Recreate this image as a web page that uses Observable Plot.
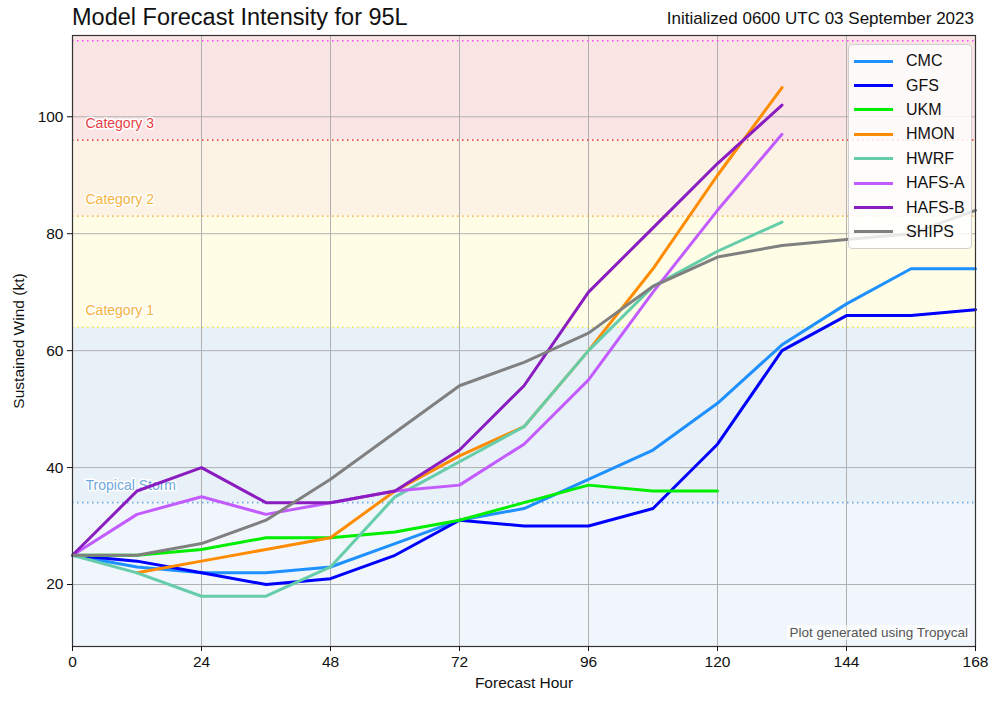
<!DOCTYPE html>
<html>
<head>
<meta charset="utf-8">
<script src="https://cdn.jsdelivr.net/npm/d3@7"></script>
<script src="https://cdn.jsdelivr.net/npm/@observablehq/plot@0.6"></script>
<style>
  body { margin: 0; background: #fff; font-family: "Liberation Sans", Arial, sans-serif; }
  #wrap { position: relative; width: 1000px; height: 704px; }
  #head { position: relative; height: 30px; }
  #title { position: absolute; left: 72px; top: 3px; font-size: 23.5px; line-height: 28px; color: #111; white-space: nowrap; }
  #init { position: absolute; right: 26px; top: 9px; font-size: 17px; line-height: 20px; color: #111; white-space: nowrap; }
  #legend { position: absolute; left: 848px; top: 44px; width: 124px; padding: 4px 0; background: rgba(255,255,255,0.82);
            border: 1px solid #d0d0d0; border-radius: 4px; box-sizing: border-box; }
  .li { display: flex; align-items: center; height: 24.4px; }
  .sw { width: 39px; height: 3px; margin-left: 5px; margin-right: 13px; }
  .lt { font-size: 16px; color: #111; }
  #credit { position: absolute; right: 30px; top: 625px; font-size: 13.5px; color: #555; background: rgba(255,255,255,0.6); padding: 0 2px; white-space: nowrap; }
  svg { display: block; }
</style>
</head>
<body>
<div id="wrap">
  <div id="head">
    <div id="title">Model Forecast Intensity for 95L</div>
    <div id="init">Initialized 0600 UTC 03 September 2023</div>
  </div>
  <div id="chart"></div>
  <div id="legend"></div>
  <div id="credit">Plot generated using Tropycal</div>
</div>
<script>
// ---- data ----
const hours = [0, 12, 24, 36, 48, 60, 72, 84, 96, 108, 120, 132, 144, 156, 168];
const models = ["CMC", "GFS", "UKM", "HMON", "HWRF", "HAFS-A", "HAFS-B", "SHIPS"];
const colors = ["#1e90ff", "#0000ff", "#00ee00", "#ff8c00", "#66cdaa", "#c35cff", "#8a1cc0", "#808080"];
const cmc   = [25, 23, 22, 22, 23, 27, 31, 33, 38, 43, 51, 61, 68, 74, 74];
const gfs   = [25, 24, 22, 20, 21, 25, 31, 30, 30, 33, 44, 60, 66, 66, 67];
const ukm   = [25, 25, 26, 28, 28, 29, 31, 34, 37, 36, 36, null, null, null, null];
const hmon  = [null, 22, 24, 26, 28, 36, 42, 47, 60, 74, 90, 105, null, null, null];
const hwrf  = [25, 22, 18, 18, 23, 35, 41, 47, 60, 71, 77, 82, null, null, null];
const hafsA = [25, 32, 35, 32, 34, 36, 37, 44, 55, 70, 84, 97, null, null, null];
const hafsB = [25, 36, 40, 34, 34, 36, 43, 54, 70, 81, 92, 102, null, null, null];
const ships = [25, 25, 27, 31, 38, 46, 54, 58, 63, 71, 76, 78, 79, 80, 84];
const seriesValues = [cmc, gfs, ukm, hmon, hwrf, hafsA, hafsB, ships];

const categoryNames = ["Tropical Storm", "Category 1", "Category 2", "Category 3", ""];
const categoryThresholds = [34, 64, 83, 96, 113];
const categoryLineColors = ["#6fa8dc", "#eeee44", "#f7b955", "#e84a4a", "#ff44ff"];
const categoryTextColors = ["#6fa8dc", "#f5b342", "#f5b342", "#e63e46", "#ff44ff"];
const bandLows  = [9.4, 34, 64, 83, 96];
const bandHighs = [34, 64, 83, 96, 113.9];
const bandFills = ["#f0f6fb", "#e8f0f8", "#fffde6", "#fdf3e5", "#fbe4e4"];

const xTicks = [0, 24, 48, 72, 96, 120, 144, 168];
const yTicks = [20, 40, 60, 80, 100];

// ---- build tables ----
const rows = [];
models.forEach((m, i) => {
  hours.forEach((h, j) => {
    const v = seriesValues[i][j];
    if (v != null) rows.push({model: m, hour: h, wind: v});
  });
});
const bands = bandLows.map((lo, i) => ({lo, hi: bandHighs[i], fill: bandFills[i]}));
const cats = categoryThresholds.map((t, i) => ({t, name: categoryNames[i], line: categoryLineColors[i], text: categoryTextColors[i]}));

const chart = Plot.plot({
  width: 1000,
  height: 674,
  marginTop: 5,
  marginBottom: 58,
  marginLeft: 72,
  marginRight: 25,
  style: {fontFamily: "Liberation Sans, Arial, sans-serif", fontSize: "15.5px", color: "#111", background: "transparent"},
  x: {domain: [0, 168]},
  y: {domain: [9.4, 113.9]},
  color: {domain: models, range: colors},
  marks: [
    Plot.rect(bands, {x1: 0, x2: 168, y1: "lo", y2: "hi", fill: "fill"}),
    Plot.gridX(xTicks, {stroke: "#b0b0b0", strokeOpacity: 1, strokeWidth: 1}),
    Plot.gridY(yTicks, {stroke: "#b0b0b0", strokeOpacity: 1, strokeWidth: 1}),
    Plot.ruleY(cats, {y: "t", stroke: "line", strokeDasharray: "1.5,3.5", strokeWidth: 1.6}),
    Plot.text(cats.filter(d => d.name), {x: 0, y: "t", text: "name", fill: "text", stroke: "white", strokeWidth: 3,
      textAnchor: "start", dx: 13, dy: -17, fontSize: 14}),
    Plot.line(rows, {x: "hour", y: "wind", z: "model", stroke: "model", strokeWidth: 3, strokeLinejoin: "miter"}),
    Plot.frame({stroke: "#333", strokeWidth: 1.2}),
    Plot.axisX({ticks: xTicks, tickSize: 5, fontSize: 15.5, label: "Forecast Hour", labelAnchor: "center", labelArrow: "none", labelOffset: 41, tickPadding: 4}),
    Plot.axisY({ticks: yTicks, tickSize: 5, fontSize: 15.5, label: "Sustained Wind (kt)", labelAnchor: "center", labelArrow: "none", labelOffset: 60, tickPadding: 4})
  ]
});
document.getElementById("chart").appendChild(chart);

// legend
const leg = document.getElementById("legend");
models.forEach((m, i) => {
  const row = document.createElement("div");
  row.className = "li";
  row.innerHTML = `<div class="sw" style="background:${colors[i]}"></div><div class="lt">${m}</div>`;
  leg.appendChild(row);
});
</script>
</body>
</html>
